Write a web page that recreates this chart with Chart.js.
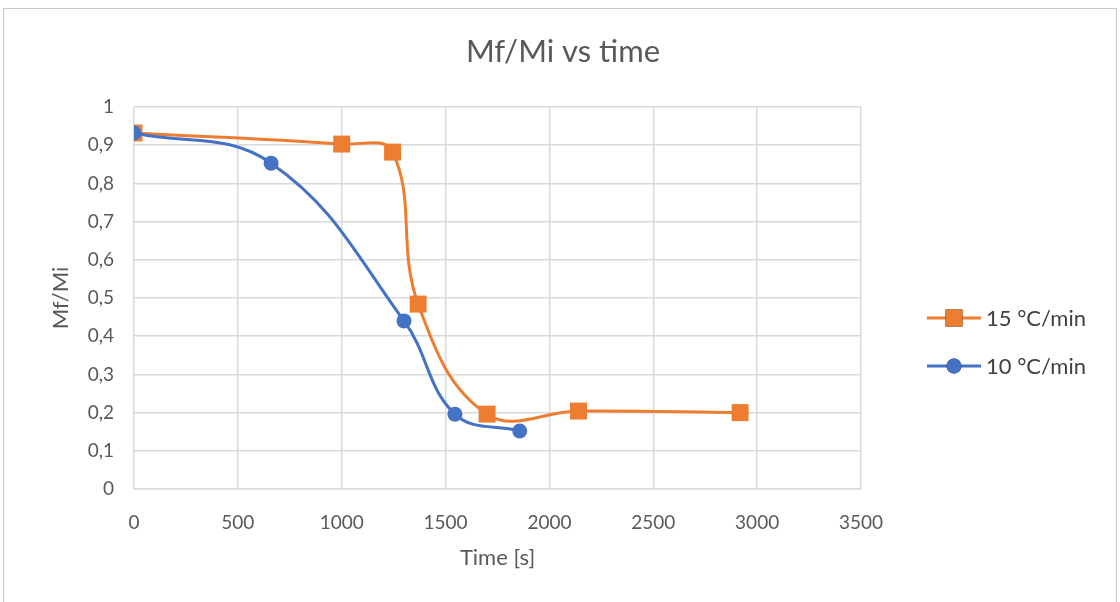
<!DOCTYPE html>
<html>
<head>
<meta charset="utf-8">
<script src="https://cdn.jsdelivr.net/npm/chart.js@4/dist/chart.umd.min.js"></script>
<style>
  body { margin: 0; background: #fff; }
  .frame { position: absolute; left: 3px; top: 8px; width: 1114px; height: 640px; border: 1px solid #c8c8c8; box-sizing: border-box; }
  #chart { position: absolute; left: 0; top: 0; }
</style>
</head>
<body>
<div class="frame"></div>
<canvas id="chart" width="1120" height="602"></canvas>
<script>
// mass ratio measurements, time in seconds
const time15 = [0, 1000, 1245, 1368, 1700, 2140, 2918];
const ratio15 = [0.932, 0.903, 0.882, 0.484, 0.196, 0.204, 0.200];
const time10 = [0, 660, 1300, 1545, 1857];
const ratio10 = [0.932, 0.853, 0.440, 0.196, 0.152];
const seriesLabels = ['15 °C/min', '10 °C/min'];
const seriesColors = ['#ED7D31', '#4472C4'];

const textGray = '#595959';
const fontFamily = 'Lato, "Open Sans", sans-serif';

function toPoints(xs, ys) {
  return xs.map((x, i) => ({ x: x, y: ys[i] }));
}

// Excel style legend: short line with the marker in the middle
const lineLegend = {
  id: 'lineLegend',
  afterDraw(chart) {
    const ctx = chart.ctx;
    const x0 = 927, y0 = 318, gap = 48, len = 54;
    chart.data.datasets.forEach((ds, i) => {
      const y = y0 + i * gap;
      ctx.save();
      ctx.strokeStyle = ds.borderColor;
      ctx.lineWidth = ds.borderWidth;
      ctx.beginPath();
      ctx.moveTo(x0, y);
      ctx.lineTo(x0 + len, y);
      ctx.stroke();
      Chart.helpers.drawPoint(ctx, {
        pointStyle: ds.pointStyle,
        radius: ds.pointRadius,
        borderWidth: 0
      }, x0 + len / 2, y);
      ctx.fillStyle = ds.backgroundColor;
      ctx.fill();
      ctx.fillStyle = '#404040';
      ctx.font = '22px ' + fontFamily;
      ctx.textBaseline = 'middle';
      ctx.textAlign = 'left';
      ctx.fillText(ds.label, x0 + len + 5, y + 1);
      ctx.restore();
    });
  }
};

const chartTitle = {
  id: 'chartTitle',
  afterDraw(chart) {
    const ctx = chart.ctx;
    ctx.save();
    ctx.fillStyle = textGray;
    ctx.font = '31px ' + fontFamily;
    ctx.textAlign = 'center';
    ctx.textBaseline = 'middle';
    ctx.fillText('Mf/Mi vs time', 563, 52);
    ctx.restore();
  }
};

new Chart(document.getElementById('chart'), {
  type: 'line',
  data: {
    datasets: [
      {
        label: seriesLabels[0],
        data: toPoints(time15, ratio15),
        borderColor: seriesColors[0],
        backgroundColor: seriesColors[0],
        borderWidth: 3,
        pointStyle: 'rect',
        pointRadius: 12,
        pointBorderWidth: 0,
        tension: 0.4,
        order: 1
      },
      {
        label: seriesLabels[1],
        data: toPoints(time10, ratio10),
        borderColor: seriesColors[1],
        backgroundColor: seriesColors[1],
        borderWidth: 3,
        pointStyle: 'circle',
        pointRadius: 7.5,
        pointBorderWidth: 0,
        tension: 0.4,
        order: 0
      }
    ]
  },
  options: {
    responsive: false,
    animation: false,
    layout: { padding: { left: 0, right: 259, top: 107, bottom: 0 } },
    plugins: {
      legend: { display: false },
      title: { display: false },
      tooltip: { enabled: false }
    },
    scales: {
      x: {
        type: 'linear',
        min: 0,
        max: 3500,
        afterFit: (scale) => { scale.height = 113; },
        ticks: {
          stepSize: 500,
          padding: 22,
          color: textGray,
          font: { size: 19, family: fontFamily },
          callback: (v) => String(v)
        },
        grid: { color: '#d9d9d9', lineWidth: 1.5, drawTicks: false },
        border: { color: '#d9d9d9', width: 1.5 },
        title: {
          display: true,
          text: 'Time [s]',
          color: textGray,
          font: { size: 22, family: fontFamily },
          padding: { top: 0, bottom: 31 }
        }
      },
      y: {
        min: 0,
        max: 1,
        afterFit: (scale) => { scale.width = 134; },
        ticks: {
          stepSize: 0.1,
          padding: 20,
          color: textGray,
          font: { size: 19, family: fontFamily },
          callback: (v) => (v === 0 || v === 1) ? String(v) : v.toFixed(1).replace('.', ',')
        },
        grid: { color: '#d9d9d9', lineWidth: 1.5, drawTicks: false },
        border: { display: false },
        title: {
          display: true,
          text: 'Mf/Mi',
          color: textGray,
          font: { size: 22, family: fontFamily },
          padding: { top: 48, bottom: 0 }
        }
      }
    }
  },
  plugins: [lineLegend, chartTitle]
});
</script>
</body>
</html>
